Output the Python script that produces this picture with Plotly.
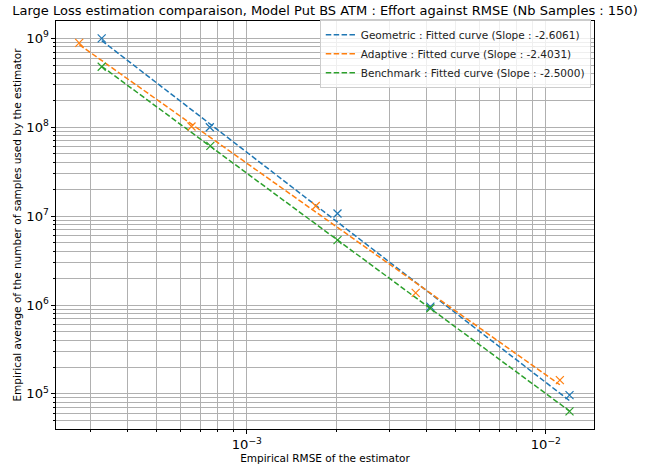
import numpy as np
import plotly.graph_objects as go

# ---- data ----
series_names = ["Geometric", "Adaptive", "Benchmark"]
slope_labels = ["-2.6061", "-2.4031", "-2.5000"]
colors = ["#1f77b4", "#ff7f0e", "#2ca02c"]

rmse_geo = [3.27e-4, 7.52e-4, 2.01e-3, 4.11e-3, 1.20e-2]
n_geo = [1.0e9, 1.0e8, 1.07e7, 9.6e5, 9.7e4]
rmse_ada = [2.75e-4, 6.53e-4, 1.70e-3, 3.67e-3, 1.114e-2]
n_ada = [8.9e8, 1.02e8, 1.30e7, 1.37e6, 1.43e5]
rmse_bench = [3.27e-4, 7.55e-4, 2.01e-3, 4.11e-3, 1.20e-2]
n_bench = [4.79e8, 6.18e7, 5.36e6, 9.2e5, 6.37e4]

title = "Large Loss estimation comparaison, Model Put BS ATM : Effort against RMSE (Nb Samples : 150)"
xlabel = "Empirical RMSE of the estimator"
ylabel = "Empirical average of the number of samples used by the estimator"

xs = [rmse_geo, rmse_ada, rmse_bench]
ys = [n_geo, n_ada, n_bench]

fig = go.Figure()
for name, sl, col, x, y in zip(series_names, slope_labels, colors, xs, ys):
    lx = np.log10(x)
    ly = np.log10(y)
    p = np.polyfit(lx, ly, 1)
    fx = np.array([lx.min(), lx.max()])
    fy = np.polyval(p, fx)
    fig.add_trace(go.Scatter(
        x=10 ** fx, y=10 ** fy, mode="lines",
        line=dict(color=col, width=1.5, dash="5.5px,2.4px"),
        name=f"{name} : Fitted curve (Slope : {sl})",
    ))
for col, x, y in zip(colors, xs, ys):
    fig.add_trace(go.Scatter(
        x=x, y=y, mode="markers", showlegend=False,
        marker=dict(symbol="x-thin-open", size=8, color=col,
                    line=dict(color=col, width=1.2)),
    ))

font_family = "DejaVu Sans"
axis_common = dict(
    type="log",
    automargin=False,
    showline=True, mirror=True, linecolor="black", linewidth=1,
    ticks="outside", ticklen=4, tickwidth=0.8, tickcolor="black",
    showgrid=True, gridcolor="#b0b0b0", gridwidth=0.8,
    exponentformat="power", dtick=1,
    zeroline=False,
    minor=dict(ticks="outside", ticklen=2, tickcolor="black", showgrid=True,
               gridcolor="#b0b0b0", gridwidth=0.8, dtick="D1"),
    tickfont=dict(family=font_family, size=10.5, color="black"),
)

fig.update_xaxes(**axis_common,
                 range=[np.log10(2.3e-4), np.log10(1.449e-2)],
                 title=dict(text=xlabel, font=dict(family=font_family, size=10.5, color="black"), standoff=2))
fig.update_yaxes(**axis_common,
                 range=[4.605, 9.195],
                 title=dict(text=ylabel, font=dict(family=font_family, size=10.5, color="black"), standoff=2))

W, H = 653, 469
fig.update_layout(
    width=W, height=H,
    margin=dict(l=56, r=59, t=21, b=40, autoexpand=False),
    paper_bgcolor="white", plot_bgcolor="white",
    title=dict(text=title, x=0.5, xref="paper", xanchor="center",
               y=1 - 10 / H, yref="container", yanchor="middle",
               font=dict(family=font_family, size=13, color="black")),
    font=dict(family=font_family, size=10.5, color="black"),
    legend=dict(x=0.994, y=1.004, xanchor="right", yanchor="top",
                bgcolor="rgba(255,255,255,0.8)", bordercolor="#cccccc", borderwidth=1,
                font=dict(family=font_family, size=10.5, color="#222222"),
                tracegroupgap=0, itemwidth=30),
    showlegend=True,
)

fig.write_html("out.html", config={"displayModeBar": False},
               post_script="document.body.style.margin='0px';")
